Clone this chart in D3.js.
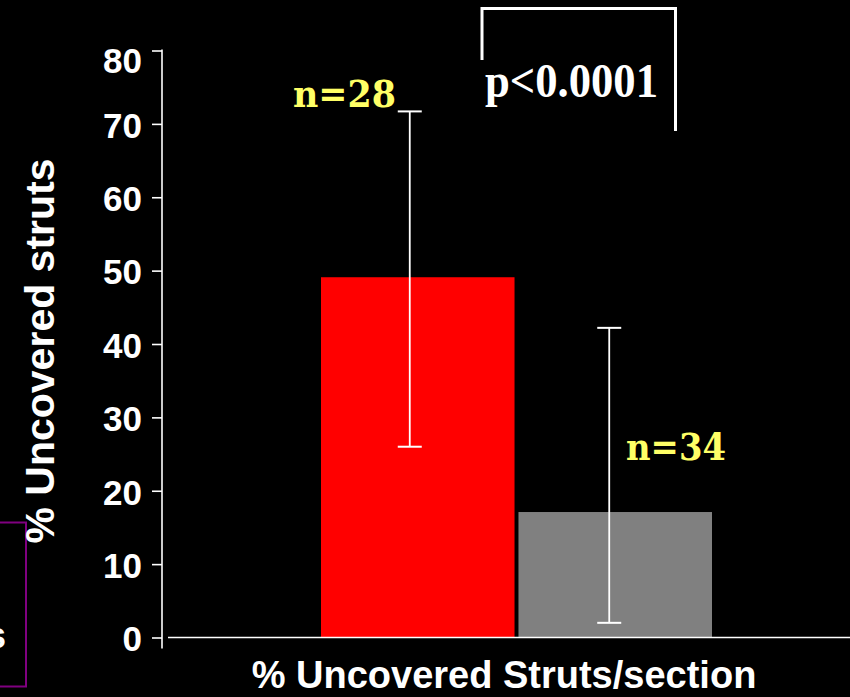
<!DOCTYPE html>
<html>
<head>
<meta charset="utf-8">
<script src="https://cdn.jsdelivr.net/npm/d3@7"></script>
<style>
  html, body { margin: 0; padding: 0; background: #000; }
  svg { display: block; }
</style>
</head>
<body>
<script>
// Uncovered strut percentage per section, two groups
const groups = ["A", "B"];
const means = [49.1, 17.1];
const upper = [71.7, 42.2];
const lower = [26.0, 2.0];
const nLabels = ["n=28", "n=34"];
const barColors = ["#ff0000", "#808080"];
const yTicks = [0, 10, 20, 30, 40, 50, 60, 70, 80];
const pLabel = "p<0.0001";
const yTitle = "% Uncovered struts";
const xTitle = "% Uncovered Struts/section";

const W = 850, H = 697;
const svg = d3.select("body").append("svg").attr("width", W).attr("height", H);
svg.append("rect").attr("width", W).attr("height", H).attr("fill", "#000");

const y = d3.scaleLinear().domain([0, 80]).range([637.5, 50.5]);
const x = d3.scaleBand().domain(groups).range([321, 712]).paddingInner(0.02);

// side panel running off the left edge
svg.append("rect").attr("x", -40).attr("y", 522.5).attr("width", 66).attr("height", 164)
  .attr("fill", "none").attr("stroke", "#800080").attr("stroke-width", 2);
svg.append("text").attr("x", 6).attr("y", 648).attr("text-anchor", "end")
  .attr("fill", "#fff").attr("font-family", "Liberation Sans, Arial, sans-serif")
  .attr("font-weight", "bold").attr("font-size", 36).text("s");

// bars
svg.selectAll("rect.bar").data(groups).enter().append("rect")
  .attr("class", "bar")
  .attr("x", d => x(d))
  .attr("width", x.bandwidth())
  .attr("y", (d, i) => y(means[i]))
  .attr("height", (d, i) => y(0) - y(means[i]))
  .attr("fill", (d, i) => barColors[i]);

// x axis baseline
svg.append("line").attr("x1", 168).attr("x2", W).attr("y1", y(0)).attr("y2", y(0))
  .attr("stroke", "#fff").attr("stroke-width", 1.6);

// y axis
const yAxis = d3.axisLeft(y).tickValues(yTicks).tickSize(10).tickPadding(10).tickSizeOuter(0);
const gy = svg.append("g").attr("transform", "translate(162,0)").call(yAxis);
gy.select(".domain").remove();
gy.append("line").attr("x1", 0).attr("x2", 0).attr("y1", y(80) - 1).attr("y2", y(0) + 11)
  .attr("stroke", "#fff").attr("stroke-width", 1.6);
gy.selectAll(".tick line").attr("stroke", "#fff").attr("stroke-width", 1.6);
gy.selectAll(".tick text")
  .attr("fill", "#fff")
  .attr("font-family", "Liberation Sans, Arial, sans-serif")
  .attr("font-weight", "bold")
  .attr("font-size", 35)
  .attr("dy", d => d === 80 ? "0.62em" : "0.38em");

// error bars
const capW = 24;
const eb = svg.selectAll("g.err").data(groups).enter().append("g").attr("class", "err")
  .attr("transform", (d, i) => `translate(${x(d) + x.bandwidth() / 2 + (i === 0 ? -8 : -6)},0)`);
eb.append("line").attr("x1", 0).attr("x2", 0)
  .attr("y1", (d, i) => y(upper[i])).attr("y2", (d, i) => y(lower[i]))
  .attr("stroke", "#fff").attr("stroke-width", 1.8);
eb.append("line").attr("x1", -capW / 2).attr("x2", capW / 2)
  .attr("y1", (d, i) => y(upper[i])).attr("y2", (d, i) => y(upper[i]))
  .attr("stroke", "#fff").attr("stroke-width", 2);
eb.append("line").attr("x1", -capW / 2).attr("x2", capW / 2)
  .attr("y1", (d, i) => y(lower[i])).attr("y2", (d, i) => y(lower[i]))
  .attr("stroke", "#fff").attr("stroke-width", 2);

// sample size labels
const nPos = [[293, 106.5], [626, 459.5]];
svg.selectAll("text.n").data(nLabels).enter().append("text")
  .attr("class", "n")
  .attr("x", (d, i) => nPos[i][0]).attr("y", (d, i) => nPos[i][1])
  .attr("fill", "#ffff66")
  .attr("font-family", "DejaVu Serif, serif")
  .attr("font-weight", "bold")
  .attr("font-size", 37)
  .attr("textLength", (d, i) => i === 0 ? 103 : 100)
  .attr("lengthAdjust", "spacingAndGlyphs")
  .text(d => d);

// significance bracket
svg.append("path")
  .attr("d", "M482,60 L482,8.5 L675.5,8.5 L675.5,131")
  .attr("fill", "none").attr("stroke", "#fff").attr("stroke-width", 3);
svg.append("text").attr("x", 485).attr("y", 97)
  .attr("fill", "#fff")
  .attr("font-family", "Liberation Serif, Times New Roman, serif")
  .attr("font-weight", "bold").attr("font-size", 48)
  .attr("textLength", 173).attr("lengthAdjust", "spacingAndGlyphs")
  .text(pLabel);

// axis titles
svg.append("text")
  .attr("transform", "translate(54,351) rotate(-90)")
  .attr("text-anchor", "middle")
  .attr("fill", "#fff")
  .attr("font-family", "Liberation Sans, Arial, sans-serif")
  .attr("font-weight", "bold").attr("font-size", 41)
  .text(yTitle);
svg.append("text")
  .attr("x", 504).attr("y", 688)
  .attr("text-anchor", "middle")
  .attr("fill", "#fff")
  .attr("font-family", "Liberation Sans, Arial, sans-serif")
  .attr("font-weight", "bold").attr("font-size", 38)
  .text(xTitle);
</script>
</body>
</html>
